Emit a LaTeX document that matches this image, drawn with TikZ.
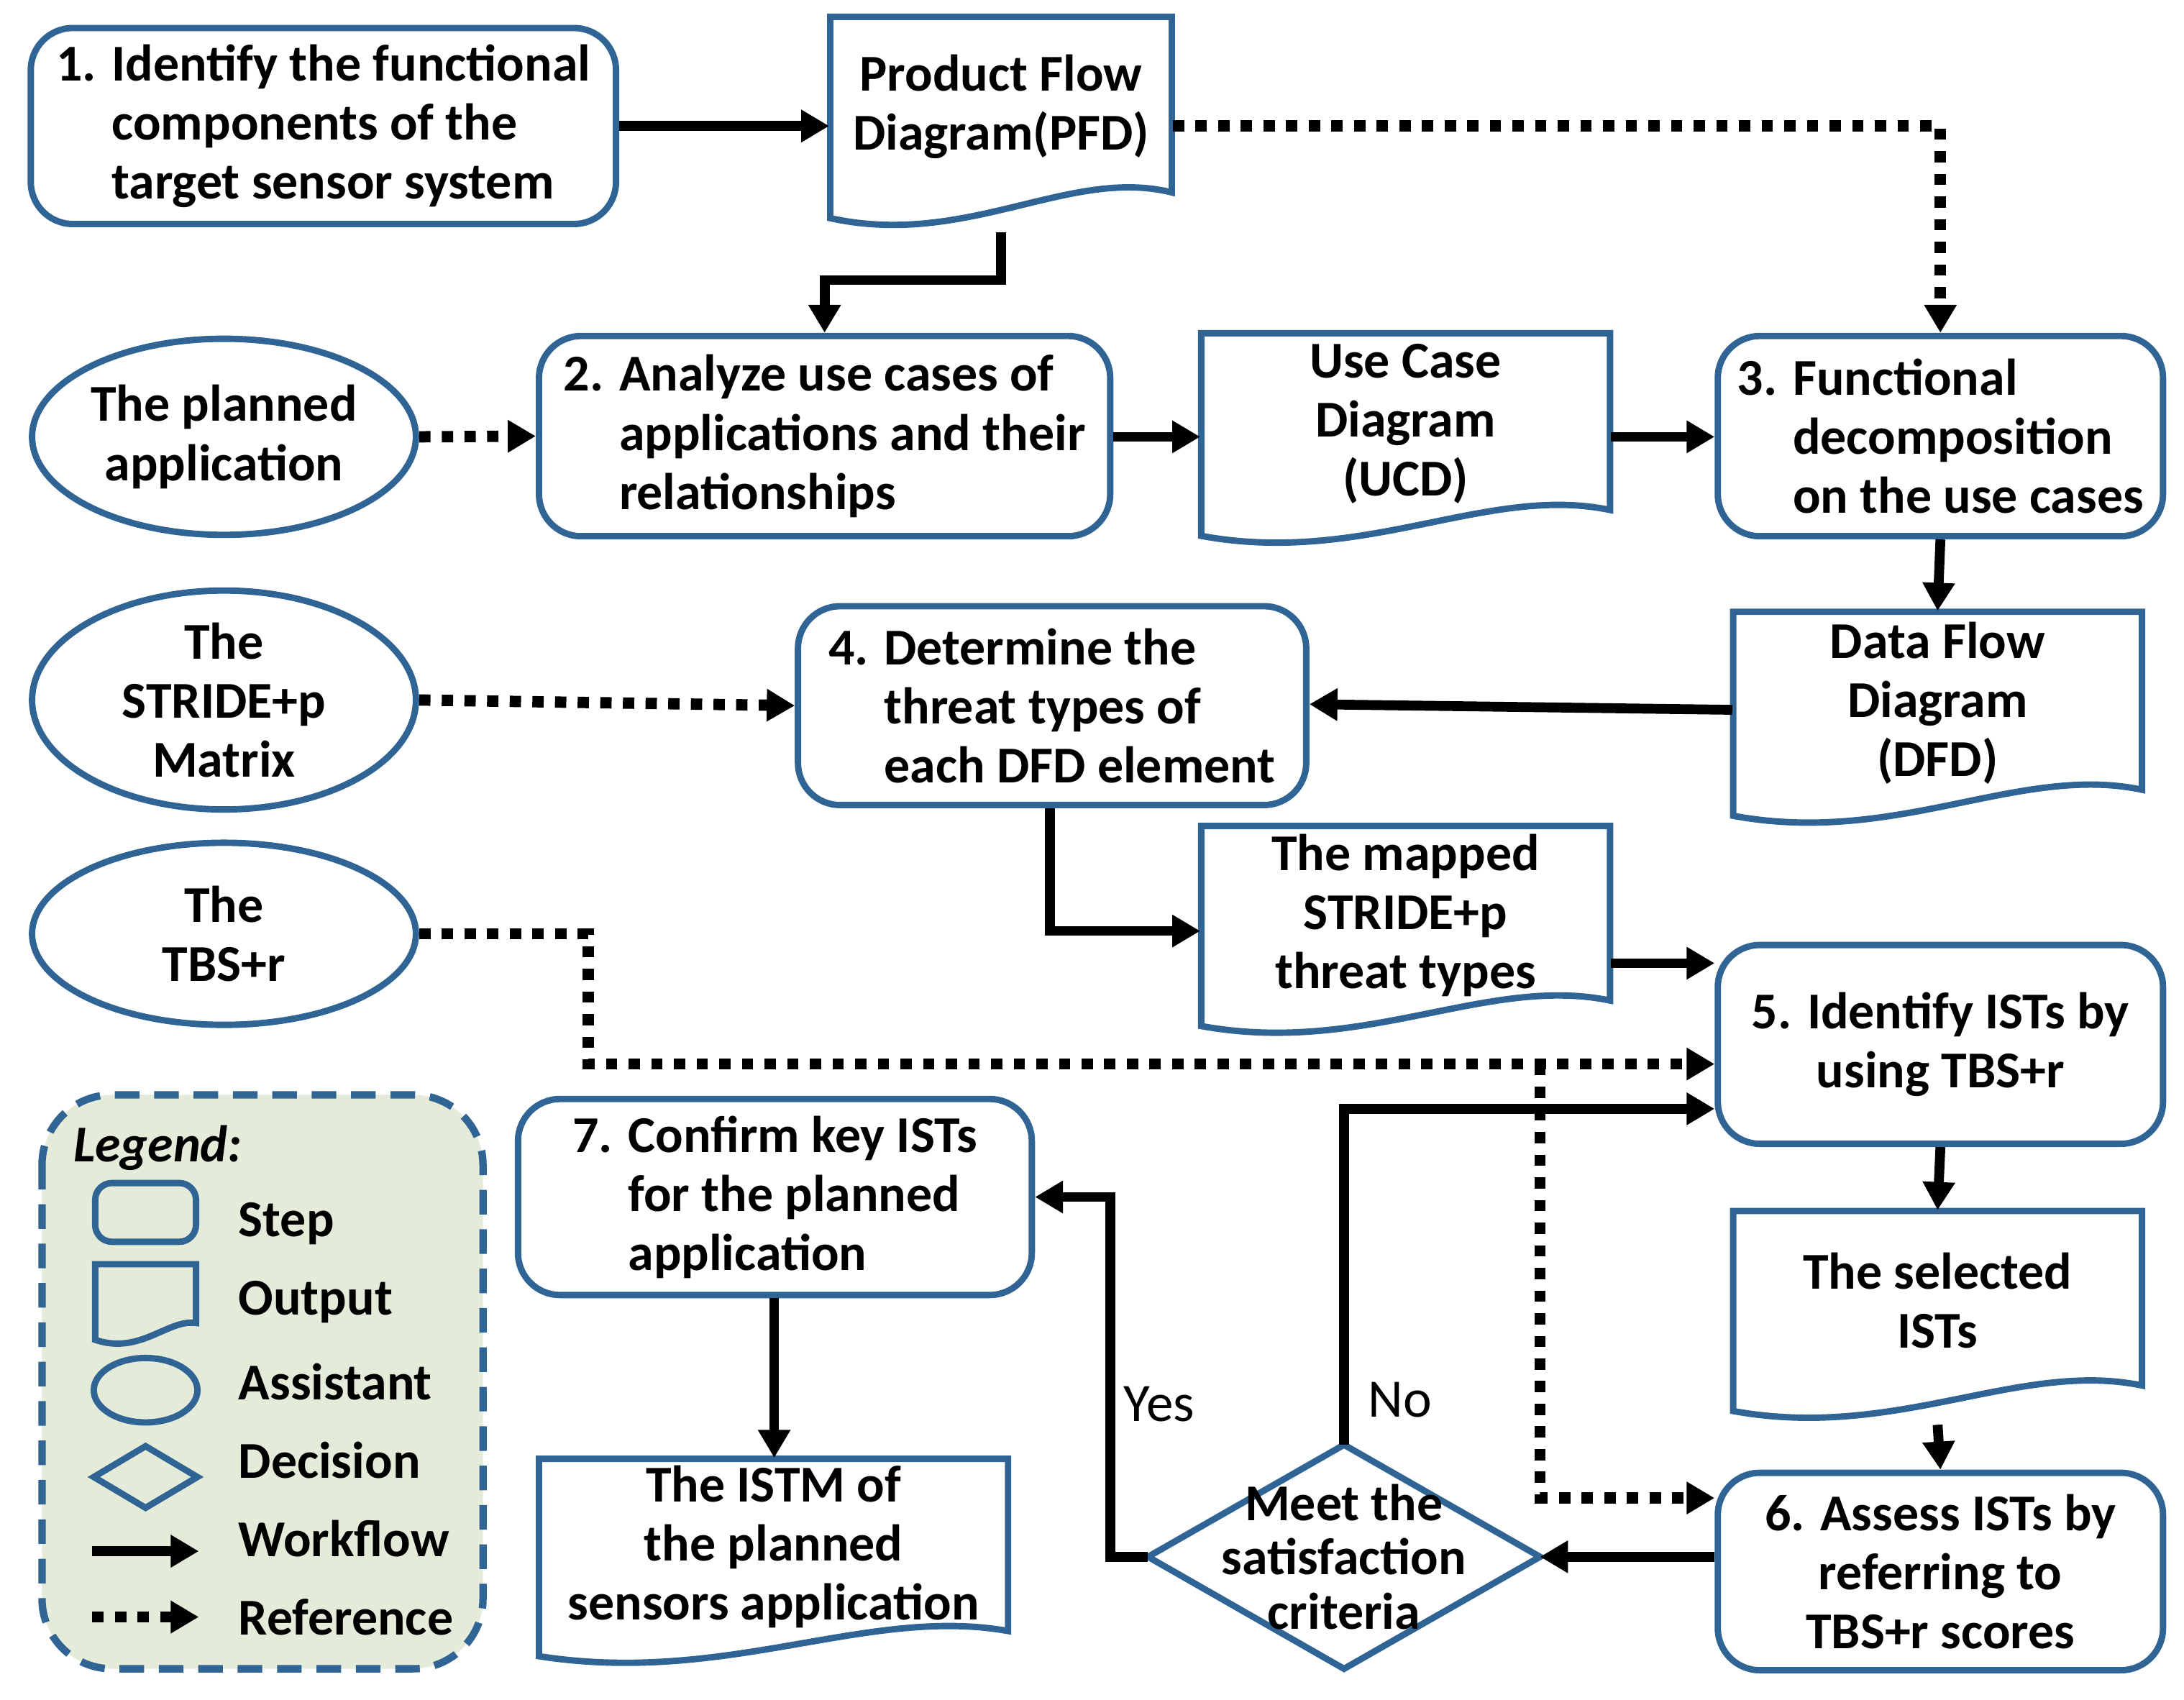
\documentclass[tikz,border=0pt]{standalone}
\usepackage{fontspec}
\setmainfont{Carlito}
\usetikzlibrary{arrows.meta,shapes.geometric}
\definecolor{bord}{HTML}{2F6494}
\definecolor{legfill}{HTML}{E4EBD8}
\tikzset{
  box/.style={draw=bord,line width=1.3pt,rounded corners=0.3cm,inner sep=2pt,font=\bfseries\fontsize{10.5}{12}\selectfont},
  stepb/.style={box},
  ghost/.style={inner sep=0pt,font=\bfseries\fontsize{10.5}{12}\selectfont,align=center},
  docline/.style={draw=bord,line width=1.3pt,fill=white},
  ell/.style={draw=bord,line width=1.3pt,ellipse,inner sep=0pt,align=center,font=\bfseries\fontsize{10.5}{12}\selectfont},
  flow/.style={line width=2pt,-{Triangle[length=0.2cm,width=0.22cm]}},
  refl/.style={line width=2.3pt,dash pattern=on 2.3pt off 2.3pt,-{Triangle[length=0.2cm,width=0.22cm]}},
}
\newcommand\stepbox[7]{\node[stepb,align=#7,minimum width={(#4-#2)*0.01cm},minimum height={(#5-#3)*0.01cm}] (#1) at ({(#2+#4)/2},{(#3+#5)/2}) {#6};}
\newcommand\docbox[6]{%
  \pgfmathsetmacro\dw{#4-#2}\pgfmathsetmacro\dh{#5-#3}%
  \draw[docline] (#2,#3) -- (#4,#3) -- (#4,{#5-0.18*\dh}) .. controls ({#2+0.7*\dw},{#5-0.3*\dh}) and ({#2+0.4*\dw},{#5+0.08*\dh}) .. (#2,{#5-0.06*\dh}) -- cycle;
  \node[ghost,minimum width={\dw*0.01cm},minimum height={\dh*0.01cm}] (#1) at ({(#2+#4)/2},{(#3+#5)/2}) {};
  \node[ghost] at ({(#2+#4)/2},{(#3+#5)/2-0.08*\dh}) {#6};}
\begin{document}
\begin{tikzpicture}[x=0.01cm,y=-0.01cm]
\useasboundingbox (0,0) rectangle (1560,1214);
% legend
\draw[bord,line width=1.5pt,dash pattern=on 5pt off 3pt,fill=legfill,rounded corners=0.5cm] (30,782) rectangle (345,1192);
\node[anchor=west,font=\bfseries\itshape\fontsize{10.5}{12}\selectfont] (lg) at (40,820) {Legend:};
\draw[bord,line width=1.3pt,rounded corners=0.12cm] (68,845) rectangle (140,887);
\draw[docline,fill=none] (68,903) -- (140,903) -- (140,945) .. controls (120,942) and (100,968) .. (68,957) -- cycle;
\node[ell,minimum width=0.74cm,minimum height=0.46cm] (le) at (104,993) {};
\draw[bord,line width=1.3pt] (67,1055) -- (104,1033) -- (141,1055) -- (104,1077) -- cycle;
\coordinate (lw1) at (66,1108); \coordinate (lw2) at (142,1108);
\coordinate (lr1) at (66,1155); \coordinate (lr2) at (142,1155);
\draw[flow] (lw1) -- (lw2);
\draw[refl] (lr1) -- (lr2);
\foreach \y/\t in {874/Step,930/Output,987/Assistant,1043/Decision,1099/Workflow,1155/Reference}
  \node[anchor=west,font=\bfseries\fontsize{10.5}{12}\selectfont] at (158,\y) {\t};
% steps
\stepbox{s1}{22}{20}{440}{160}{1. Identify the functional\\\phantom{1. }components of the\\\phantom{1. }target sensor system}{left}
\stepbox{s2}{385}{240}{793}{383}{2. Analyze use cases of\\\phantom{2. }applications and their\\\phantom{2. }relationships}{left}
\stepbox{s3}{1227}{240}{1545}{383}{3. Functional\\\phantom{3. }decomposition\\\phantom{3. }on the use cases}{left}
\stepbox{s4}{570}{433}{933}{575}{4. Determine the\\\phantom{4. }threat types of\\\phantom{4. }each DFD element}{left}
\stepbox{s5}{1227}{675}{1545}{817}{5. Identify ISTs by\\using TBS+r}{center}
\stepbox{s6}{1227}{1052}{1545}{1193}{6. Assess ISTs by\\referring to\\TBS+r scores}{center}
\stepbox{s7}{370}{785}{737}{925}{7. Confirm key ISTs\\\phantom{7. }for the planned\\\phantom{7. }application}{left}
% docs
\docbox{pfd}{593}{12}{837}{165}{Product Flow\\Diagram(PFD)}
\docbox{ucd}{858}{238}{1150}{392}{Use Case\\Diagram\\(UCD)}
\docbox{dfd}{1238}{437}{1530}{592}{Data Flow\\Diagram\\(DFD)}
\docbox{map}{858}{590}{1150}{742}{The mapped\\STRIDE+p\\threat types}
\docbox{sel}{1238}{865}{1530}{1017}{The selected\\ISTs}
\docbox{istm}{385}{1042}{720}{1192}{The ISTM of\\the planned\\sensors application}
% ellipses
\node[ell,minimum width=2.74cm,minimum height=1.4cm] (e1) at (160,312) {The planned\\application};
\node[ell,minimum width=2.74cm,minimum height=1.44cm] (e2) at (160,500) {The\\STRIDE+p\\Matrix};
\node[ell,minimum width=2.74cm,minimum height=1.3cm] (e3) at (160,667) {};
\node[ghost] (e3t) at (160,667) {The\\TBS+r};
% diamond
\draw[bord,line width=1.3pt,fill=white] (820,1112) -- (960,1032) -- (1100,1112) -- (960,1192) -- cycle;
\coordinate (dmN) at (960,1032); \coordinate (dmE) at (1100,1112); \coordinate (dmW) at (820,1112);
\node[ghost,font=\bfseries\fontsize{10.5}{11}\selectfont] (dm) at (960,1112) {Meet the\\satisfaction\\criteria};
% connectors
\draw[flow] (s1.east) -- (s1.east -| pfd.west);
\draw[flow] (pfd.south) -- (715,200) -| (s2.north);
\draw[refl] (pfd.east |- 0,90) -| (s3.north);
\draw[refl] (e1.east) -- (s2.west);
\draw[flow] (s2.east |- 0,312) -- (ucd.west |- 0,312);
\draw[flow] (ucd.east |- 0,312) -- (s3.west |- 0,312);
\draw[flow] (s3.south) -- (dfd.north);
\draw[refl] (e2.east) -- (s4.west);
\draw[flow] (dfd.west |- 0,507) -- (s4.east |- 0,503);
\draw[flow] (s4.south -| 750,0) |- (map.west |- 0,665);
\draw[flow] (map.east |- 0,688) -- (s5.west |- 0,688);
\draw[refl] (e3.east) -- (420,667) |- (s5.west |- 0,760);
\draw[refl] (1100,760) |- (s6.west |- 0,1070);
\draw[flow] (s5.south) -- (sel.north);
\draw[flow] (sel.south) -- (s6.north);
\draw[flow] (s6.west |- dmE) -- (dmE);
\draw[flow] (dmN) |- (s5.west |- 0,792);
\draw[flow] (dmW) -- (793,1112) |- (s7.east |- 0,855);
\draw[flow] (s7.south -| 553,0) -- (istm.north -| 553,0);
\node[font=\fontsize{11}{12}\selectfont] (yes) at (828,1003) {Yes};
\node[font=\fontsize{11}{12}\selectfont] (no) at (1000,1000) {No};
\end{tikzpicture}
\end{document}
